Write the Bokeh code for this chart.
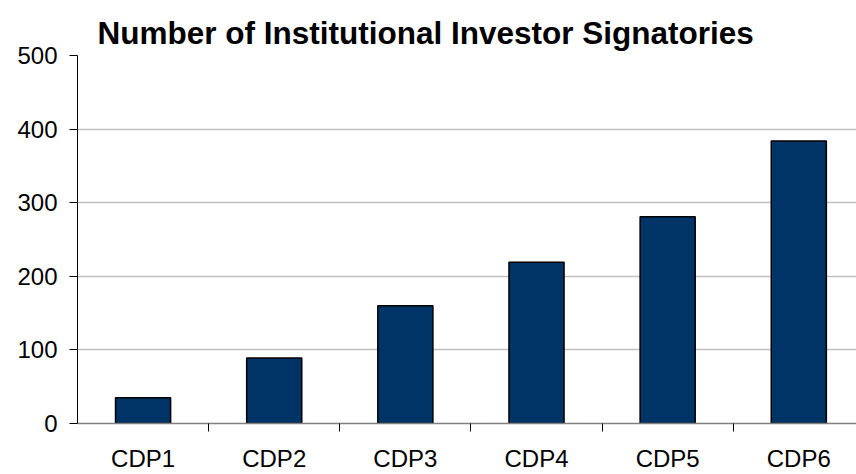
from bokeh.plotting import figure
from bokeh.models import ColumnDataSource, Range1d, FixedTicker, Title
from bokeh.embed import file_html
from bokeh.resources import INLINE

categories = ["CDP1", "CDP2", "CDP3", "CDP4", "CDP5", "CDP6"]
signatories = [35, 89, 160, 219, 281, 384]
y_ticks = [0, 100, 200, 300, 400, 500]

centers = [i + 0.5 for i in range(len(categories))]
src = ColumnDataSource(dict(x=centers, top=signatories, cat=categories))

p = figure(width=856, height=474, output_backend="svg", toolbar_location=None,
           x_range=Range1d(0, 5.94), y_range=Range1d(0, 500),
           min_border_left=77, min_border_right=0, min_border_bottom=49, min_border_top=55)
p.title = Title(text="Number of Institutional Investor Signatories", align="left",
                vertical_align="top",
                text_font="Liberation Sans", text_font_size="31.5px", text_font_style="bold",
                text_color="black", offset=20, standoff=5)
p.outline_line_color = None
p.background_fill_color = "white"
p.border_fill_color = "white"

p.vbar(x="x", top="top", bottom=0, width=0.42, source=src,
       fill_color="#003366", line_color="black", line_width=1.5)

# y axis
p.yaxis.ticker = FixedTicker(ticks=y_ticks)
p.yaxis.axis_line_color = "black"
p.yaxis.axis_line_width = 1
p.yaxis.major_tick_out = 8
p.yaxis.major_tick_in = 0
p.yaxis.major_tick_line_color = "black"
p.yaxis.minor_tick_line_color = None
p.yaxis.major_label_text_font = "Liberation Sans"
p.yaxis.major_label_text_font_size = "24px"
p.yaxis.major_label_text_color = "black"
p.yaxis.major_label_standoff = 12

# x axis
p.xaxis.ticker = FixedTicker(ticks=centers, minor_ticks=[1, 2, 3, 4, 5])
p.xaxis.major_label_overrides = {c: lab for c, lab in zip(centers, categories)}
p.xaxis.axis_line_color = "#808080"
p.xaxis.axis_line_width = 1.5
p.xaxis.major_tick_line_color = None
p.xaxis.minor_tick_line_color = "black"
p.xaxis.minor_tick_out = 8
p.xaxis.minor_tick_in = 0
p.xaxis.major_label_text_font = "Liberation Sans"
p.xaxis.major_label_text_font_size = "24px"
p.xaxis.major_label_text_color = "black"
p.xaxis.major_label_standoff = 13

p.xgrid.grid_line_color = None
p.ygrid.ticker = FixedTicker(ticks=y_ticks[1:])
p.ygrid.grid_line_color = "#c0c0c0"
p.ygrid.grid_line_width = 1.5

open("out.html", "w").write(file_html(p, INLINE))
